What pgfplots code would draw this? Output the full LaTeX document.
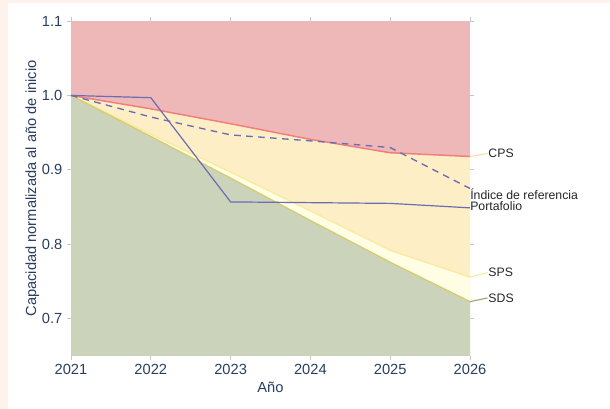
\documentclass[border=0pt]{standalone}
\usepackage{fontspec}
\setmainfont{Liberation Sans}
\usepackage{pgfplots}
\pgfplotsset{compat=1.18}

\definecolor{peach}{HTML}{FDF3EC}
\definecolor{redfill}{HTML}{EFB8B8}
\definecolor{cpsfill}{HTML}{FDEEC6}
\definecolor{spsfill}{HTML}{FFFDE3}
\definecolor{sdsfill}{HTML}{CBD3BB}
\definecolor{cpsline}{HTML}{F27D7D}
\definecolor{spsline}{HTML}{F7EC9E}
\definecolor{sdsline}{HTML}{D8CC72}
\definecolor{portline}{HTML}{6C6CB4}
\definecolor{navy}{HTML}{2A3F5F}
\definecolor{sdslink}{HTML}{98A36F}

\begin{document}
\begin{tikzpicture}
\path[use as bounding box] (0,0) rectangle (457.5pt,306.75pt);
\fill[peach] (0,0) rectangle (457.5pt,306.75pt);
\fill[white] (6pt,0) rectangle (457.5pt,304.5pt);
\begin{axis}[
    at={(53.25pt,39.75pt)}, anchor=south west,
    scale only axis,
    width=299.25pt, height=251.25pt,
    xmin=2021, xmax=2026,
    ymin=0.65, ymax=1.1,
    xtick={2021,2022,2023,2024,2025,2026},
    ytick={0.7,0.8,0.9,1.0,1.1},
    /pgf/number format/1000 sep={},
    yticklabel style={/pgf/number format/fixed,/pgf/number format/fixed zerofill,/pgf/number format/precision=1},
    /pgf/number format/assume math mode=true,
    tick align=outside,
    major tick length=3pt,
    tick style={draw=black!22, line width=0.6pt},
    axis line style={draw=none},
    tick label style={font=\fontsize{11}{13}\selectfont, text=navy},
    label style={font=\fontsize{11}{13}\selectfont, text=navy},
    xlabel={Año},
    ylabel={Capacidad normalizada al año de inicio},
    xlabel style={at={(axis description cs:0.5,-0.0925)}, anchor=center},
    ylabel style={at={(axis description cs:-0.097,0.5)}, anchor=center},
    axis background/.style={fill=redfill},
    clip=false,
]
% areas
\addplot[fill=cpsfill, draw=none] coordinates {
    (2021,1.000) (2022,0.982) (2023,0.962) (2024,0.941) (2025,0.923) (2026,0.918)
    (2026,0.65) (2021,0.65)} -- cycle;
\addplot[fill=spsfill, draw=none] coordinates {
    (2021,1.000) (2022,0.948) (2023,0.897) (2024,0.845) (2025,0.792) (2026,0.756)
    (2026,0.65) (2021,0.65)} -- cycle;
\addplot[fill=sdsfill, draw=none] coordinates {
    (2021,1.000) (2022,0.945) (2023,0.889) (2024,0.832) (2025,0.776) (2026,0.723)
    (2026,0.65) (2021,0.65)} -- cycle;
% scenario lines
\addplot[cpsline, line width=1.1pt] coordinates {
    (2021,1.000) (2022,0.982) (2023,0.962) (2024,0.941) (2025,0.923) (2026,0.918)};
\addplot[spsline, line width=1pt] coordinates {
    (2021,1.000) (2022,0.948) (2023,0.897) (2024,0.845) (2025,0.792) (2026,0.756)};
\addplot[sdsline, line width=1pt] coordinates {
    (2021,1.000) (2022,0.945) (2023,0.889) (2024,0.832) (2025,0.776) (2026,0.723)};
% benchmark and portfolio
\addplot[portline, line width=1pt, dash pattern=on 5pt off 4pt] coordinates {
    (2021,1.000) (2022,0.971) (2023,0.947) (2024,0.939) (2025,0.930) (2026,0.875)};
\addplot[portline, line width=0.9pt] coordinates {
    (2021,1.000) (2022,0.997) (2023,0.857) (2024,0.856) (2025,0.855) (2026,0.849)};
% right-hand labels
\draw[spsline!70!orange!60, line width=0.8pt] (axis cs:2026,0.918) -- (axis cs:2026.22,0.922);
\draw[spsline, line width=0.8pt] (axis cs:2026,0.756) -- (axis cs:2026.22,0.762);
\draw[sdslink, line width=0.8pt] (axis cs:2026,0.723) -- (axis cs:2026.22,0.728);
\node[anchor=west, inner sep=0.5pt, font=\fontsize{9.2}{10}\selectfont, text=black!85] at (axis cs:2026.22,0.922) {CPS};
\node[anchor=west, inner sep=0.5pt, font=\fontsize{9.2}{10}\selectfont, text=black!85] at (axis cs:2026.22,0.762) {SPS};
\node[anchor=west, inner sep=0.5pt, font=\fontsize{9.2}{10}\selectfont, text=black!85] at (axis cs:2026.22,0.728) {SDS};
\node[anchor=west, inner sep=0pt, font=\fontsize{9.2}{10}\selectfont, text=black!85] at (axis cs:2026,0.867) {Índice de referencia};
\node[anchor=west, inner sep=0pt, font=\fontsize{9.2}{10}\selectfont, text=black!85] at (axis cs:2026,0.851) {Portafolio};
\end{axis}
\end{tikzpicture}
\end{document}
